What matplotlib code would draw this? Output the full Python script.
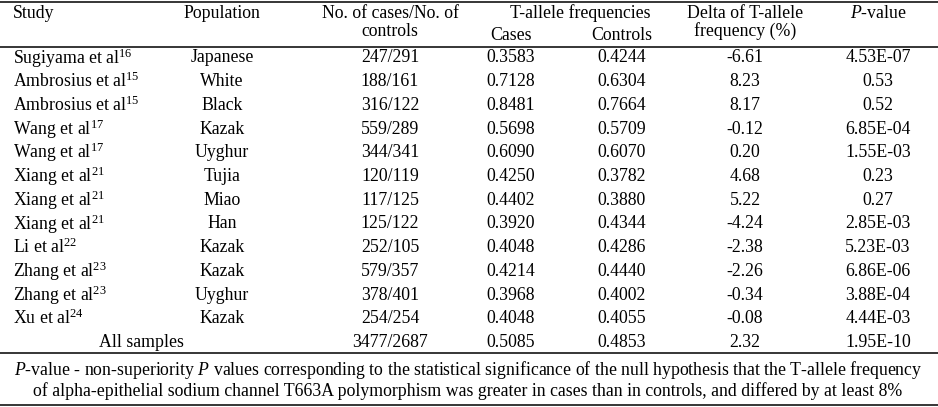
import matplotlib
matplotlib.use("Agg")
import matplotlib.pyplot as plt

plt.rcParams["font.family"] = "Liberation Serif"
plt.rcParams["mathtext.fontset"] = "custom"
plt.rcParams["mathtext.rm"] = "Liberation Serif"
plt.rcParams["mathtext.it"] = "Liberation Serif:italic"

studies = ["Sugiyama et al", "Ambrosius et al", "Ambrosius et al", "Wang et al",
           "Wang et al", "Xiang et al", "Xiang et al", "Xiang et al", "Li et al",
           "Zhang et al", "Zhang et al", "Xu et al"]
refs = ["16", "15", "15", "17", "17", "21", "21", "21", "22", "23", "23", "24"]
populations = ["Japanese", "White", "Black", "Kazak", "Uyghur", "Tujia", "Miao",
               "Han", "Kazak", "Kazak", "Uyghur", "Kazak"]
n_cases_controls = ["247/291", "188/161", "316/122", "559/289", "344/341", "120/119",
                    "117/125", "125/122", "252/105", "579/357", "378/401", "254/254"]
freq_cases = ["0.3583", "0.7128", "0.8481", "0.5698", "0.6090", "0.4250", "0.4402",
              "0.3920", "0.4048", "0.4214", "0.3968", "0.4048"]
freq_controls = ["0.4244", "0.6304", "0.7664", "0.5709", "0.6070", "0.3782", "0.3880",
                 "0.4344", "0.4286", "0.4440", "0.4002", "0.4055"]
delta = ["-6.61", "8.23", "8.17", "-0.12", "0.20", "4.68", "5.22", "-4.24", "-2.38",
         "-2.26", "-0.34", "-0.08"]
p_values = ["4.53E-07", "0.53", "0.52", "6.85E-04", "1.55E-03", "0.23", "0.27",
            "2.85E-03", "5.23E-03", "6.86E-06", "3.88E-04", "4.44E-03"]
total = ["All samples", "3477/2687", "0.5085", "0.4853", "2.32", "1.95E-10"]

footnote = [r"$\mathit{P}$-value - non-superiority $\mathit{P}$ values corresponding to the "
            "statistical significance of the null hypothesis that the T-allele frequency",
            "of alpha-epithelial sodium channel T663A polymorphism was greater in cases "
            "than in controls, and differed by at least 8%"]

W, H = 938, 407
fig = plt.figure(figsize=(W / 100, H / 100), dpi=100)
ax = fig.add_axes([0, 0, 1, 1])
ax.set_xlim(0, W)
ax.set_ylim(H, 0)
ax.axis("off")

fs = 12.8
col_x = [13, 222, 390, 511, 622, 745, 878]

# rules
for y in [1.5, 47, 353, 405]:
    ax.plot([0, W], [y, y], color="black", lw=1.1, solid_capstyle="butt")

# header
ax.text(col_x[0], 13, "Study", fontsize=fs, va="center", ha="left")
ax.text(col_x[1], 13, "Population", fontsize=fs, va="center", ha="center")
ax.text(col_x[2], 13, "No. of cases/No. of", fontsize=fs, va="center", ha="center")
ax.text(col_x[2], 32, "controls", fontsize=fs, va="center", ha="center")
ax.text(580, 13, "T-allele frequencies", fontsize=fs, va="center", ha="center")
ax.text(col_x[3], 35, "Cases", fontsize=fs, va="center", ha="center")
ax.text(col_x[4], 35, "Controls", fontsize=fs, va="center", ha="center")
ax.text(col_x[5], 13, "Delta of T-allele", fontsize=fs, va="center", ha="center")
ax.text(col_x[5], 31, "frequency (%)", fontsize=fs, va="center", ha="center")
ax.text(col_x[6], 13, r"$\mathit{P}$-value", fontsize=fs, va="center", ha="center")

# body rows
y0, dy = 58, 23.7
for i in range(len(studies)):
    y = y0 + i * dy
    ax.text(col_x[0], y, studies[i] + r"$^{\mathrm{" + refs[i] + "}}$",
            fontsize=fs, va="center", ha="left")
    vals = [populations[i], n_cases_controls[i], freq_cases[i], freq_controls[i],
            delta[i], p_values[i]]
    for x, v in zip(col_x[1:], vals):
        ax.text(x, y, v, fontsize=fs, va="center", ha="center")

y = y0 + len(studies) * dy
ax.text(141, y, total[0], fontsize=fs, va="center", ha="center")
for x, v in zip(col_x[2:], total[1:]):
    ax.text(x, y, v, fontsize=fs, va="center", ha="center")

ax.text(468, 370, footnote[0], fontsize=fs, va="center", ha="center")
ax.text(468, 391, footnote[1], fontsize=fs, va="center", ha="center")

fig.savefig("out.png", dpi=100)
